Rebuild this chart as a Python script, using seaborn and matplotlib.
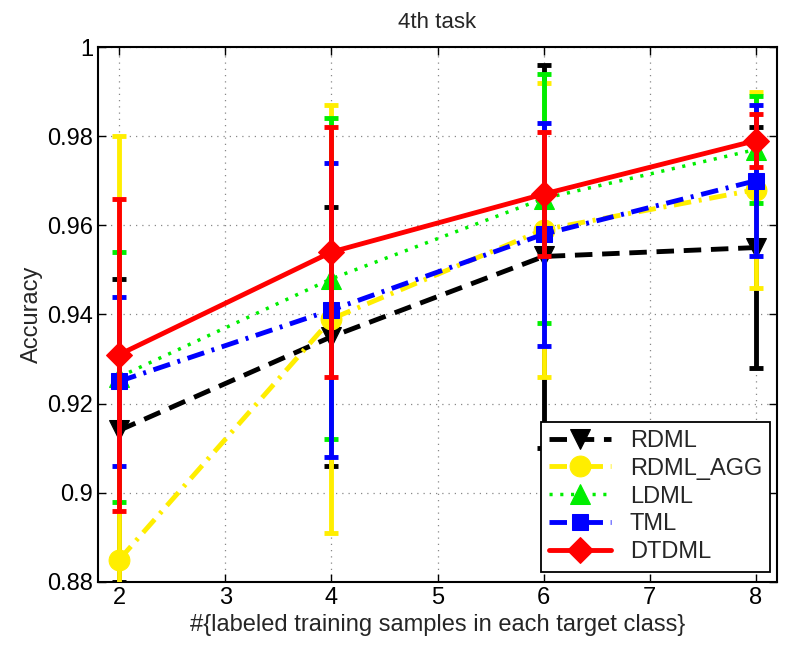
import matplotlib
matplotlib.use("Agg")
import matplotlib.pyplot as plt
import seaborn as sns
from matplotlib.ticker import FixedLocator, FixedFormatter

# data
samples = [2, 4, 6, 8]
rdml = [0.914, 0.935, 0.953, 0.955]
rdml_err = [0.034, 0.029, 0.043, 0.027]
rdml_agg = [0.885, 0.939, 0.959, 0.968]
rdml_agg_err = [0.095, 0.048, 0.033, 0.022]
ldml = [0.926, 0.948, 0.966, 0.977]
ldml_err = [0.028, 0.036, 0.028, 0.012]
tml = [0.925, 0.941, 0.958, 0.970]
tml_err = [0.019, 0.033, 0.025, 0.017]
dtdml = [0.931, 0.954, 0.967, 0.979]
dtdml_err = [0.035, 0.028, 0.014, 0.006]

xticks = [2, 3, 4, 5, 6, 7, 8]
yticks = [0.88, 0.90, 0.92, 0.94, 0.96, 0.98, 1.0]
ytick_labels = ['0.88', '0.9', '0.92', '0.94', '0.96', '0.98', '1']

sns.set_style("ticks")
plt.rcParams['font.family'] = ['Liberation Sans', 'DejaVu Sans']

series = [
    ('RDML', rdml, rdml_err, 'black', (0, (3.6, 2.0)), 'v', 15, 3.5),
    ('RDML_AGG', rdml_agg, rdml_agg_err, '#ffee00', (0, (3.6, 1.6, 0.6, 1.6)), 'o', 15, 3.5),
    ('LDML', ldml, ldml_err, '#00ee00', (0, (0.9, 2.2)), '^', 15, 2.5),
    ('TML', tml, tml_err, 'blue', (0, (3.6, 1.6, 0.6, 1.6)), 's', 12, 3.5),
    ('DTDML', dtdml, dtdml_err, 'red', '-', 'D', 13, 3.5),
]

fig, ax = plt.subplots(figsize=(8.11, 6.53), dpi=100)
fig.subplots_adjust(left=0.121, right=0.958, bottom=0.109, top=0.928)

for i, (name, vals, errs, col, ls, mk, ms, lw) in enumerate(series):
    ax.errorbar(samples, vals, yerr=errs, fmt='none', ecolor=col,
                elinewidth=3.5, capsize=5, capthick=3.5, zorder=3 + 2 * i)
    sns.lineplot(x=samples, y=vals, ax=ax, color=col, linestyle=ls,
                 linewidth=lw, marker=mk, markersize=ms,
                 markeredgecolor=col, markerfacecolor=col,
                 label=name, zorder=4 + 2 * i)

ax.set_xlim(1.8, 8.2)
ax.set_ylim(0.88, 1.0)
ax.xaxis.set_major_locator(FixedLocator(xticks))
ax.yaxis.set_major_locator(FixedLocator(yticks))
ax.yaxis.set_major_formatter(FixedFormatter(ytick_labels))
ax.tick_params(direction='in', top=True, right=True, length=6,
               width=1, labelsize=17, colors='black')
ax.grid(True, linestyle=(0, (1, 4)), color='#888888', linewidth=0.9)
for sp in ax.spines.values():
    sp.set_visible(True)
    sp.set_linewidth(1.5)
    sp.set_color('black')

ax.set_title('4th task', fontsize=16, pad=14)
ax.set_xlabel('#{labeled training samples in each target class}', fontsize=17, labelpad=4)
ax.set_ylabel('Accuracy', fontsize=17, labelpad=3)

leg = ax.legend(loc='lower right', bbox_to_anchor=(0.99, 0.019),
                borderaxespad=0, fontsize=17, handlelength=2.6,
                labelspacing=0.25, frameon=True, fancybox=False,
                edgecolor='black', framealpha=1, borderpad=0.35)
leg.get_frame().set_linewidth(1.3)
leg.set_zorder(20)

fig.savefig('out.png', dpi=100)
